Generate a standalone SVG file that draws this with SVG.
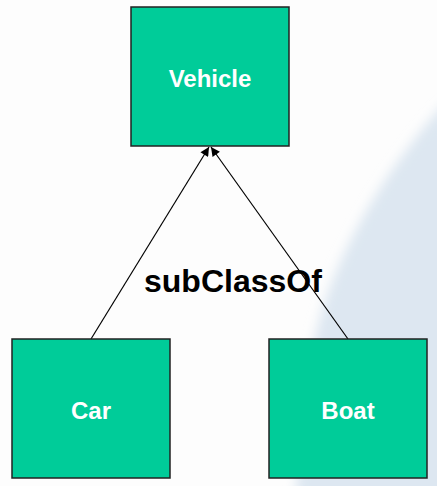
<svg xmlns="http://www.w3.org/2000/svg" width="437" height="486" viewBox="0 0 437 486">
<defs>
<style>
.node{fill:#00cc99;stroke:#222;stroke-width:1.5}
.lbl{font-family:"Liberation Sans",Arial,sans-serif;font-weight:bold;font-size:24px;fill:#fff;text-anchor:middle}
.edge{stroke:#000;stroke-width:1.2;fill:none;marker-end:url(#arr)}
.elbl{font-family:"Liberation Sans",Arial,sans-serif;font-weight:bold;font-size:32px;fill:#000}
</style>
<marker id="arr" viewBox="0 0 10 10" refX="10" refY="5" markerWidth="10" markerHeight="9" markerUnits="userSpaceOnUse" orient="auto">
<path d="M0,0 L10,5 L0,10 Z" fill="#000"/>
</marker>
<filter id="blur" x="-20%" y="-20%" width="140%" height="140%"><feGaussianBlur stdDeviation="6"/></filter>
</defs>
<rect width="437" height="486" fill="#fdfdfd"/>
<path d="M450,98 C400,150 352,225 327,295 C307,355 298,420 296,500 L450,500 Z" fill="#dde7f1" filter="url(#blur)"/>
<g id="connectors">
<line class="edge" x1="91" y1="339" x2="209" y2="147"/>
<line class="edge" x1="348" y1="339" x2="211" y2="147"/>
<text class="elbl" x="144" y="292">subClassOf</text>
</g>
<g id="vehicle">
<rect class="node" x="131" y="7" width="158" height="139"/>
<text class="lbl" x="210" y="87">Vehicle</text>
</g>
<g id="car">
<rect class="node" x="12" y="339" width="158" height="139"/>
<text class="lbl" x="91" y="419">Car</text>
</g>
<g id="boat">
<rect class="node" x="269" y="339" width="158" height="139"/>
<text class="lbl" x="348" y="419">Boat</text>
</g>
</svg>
